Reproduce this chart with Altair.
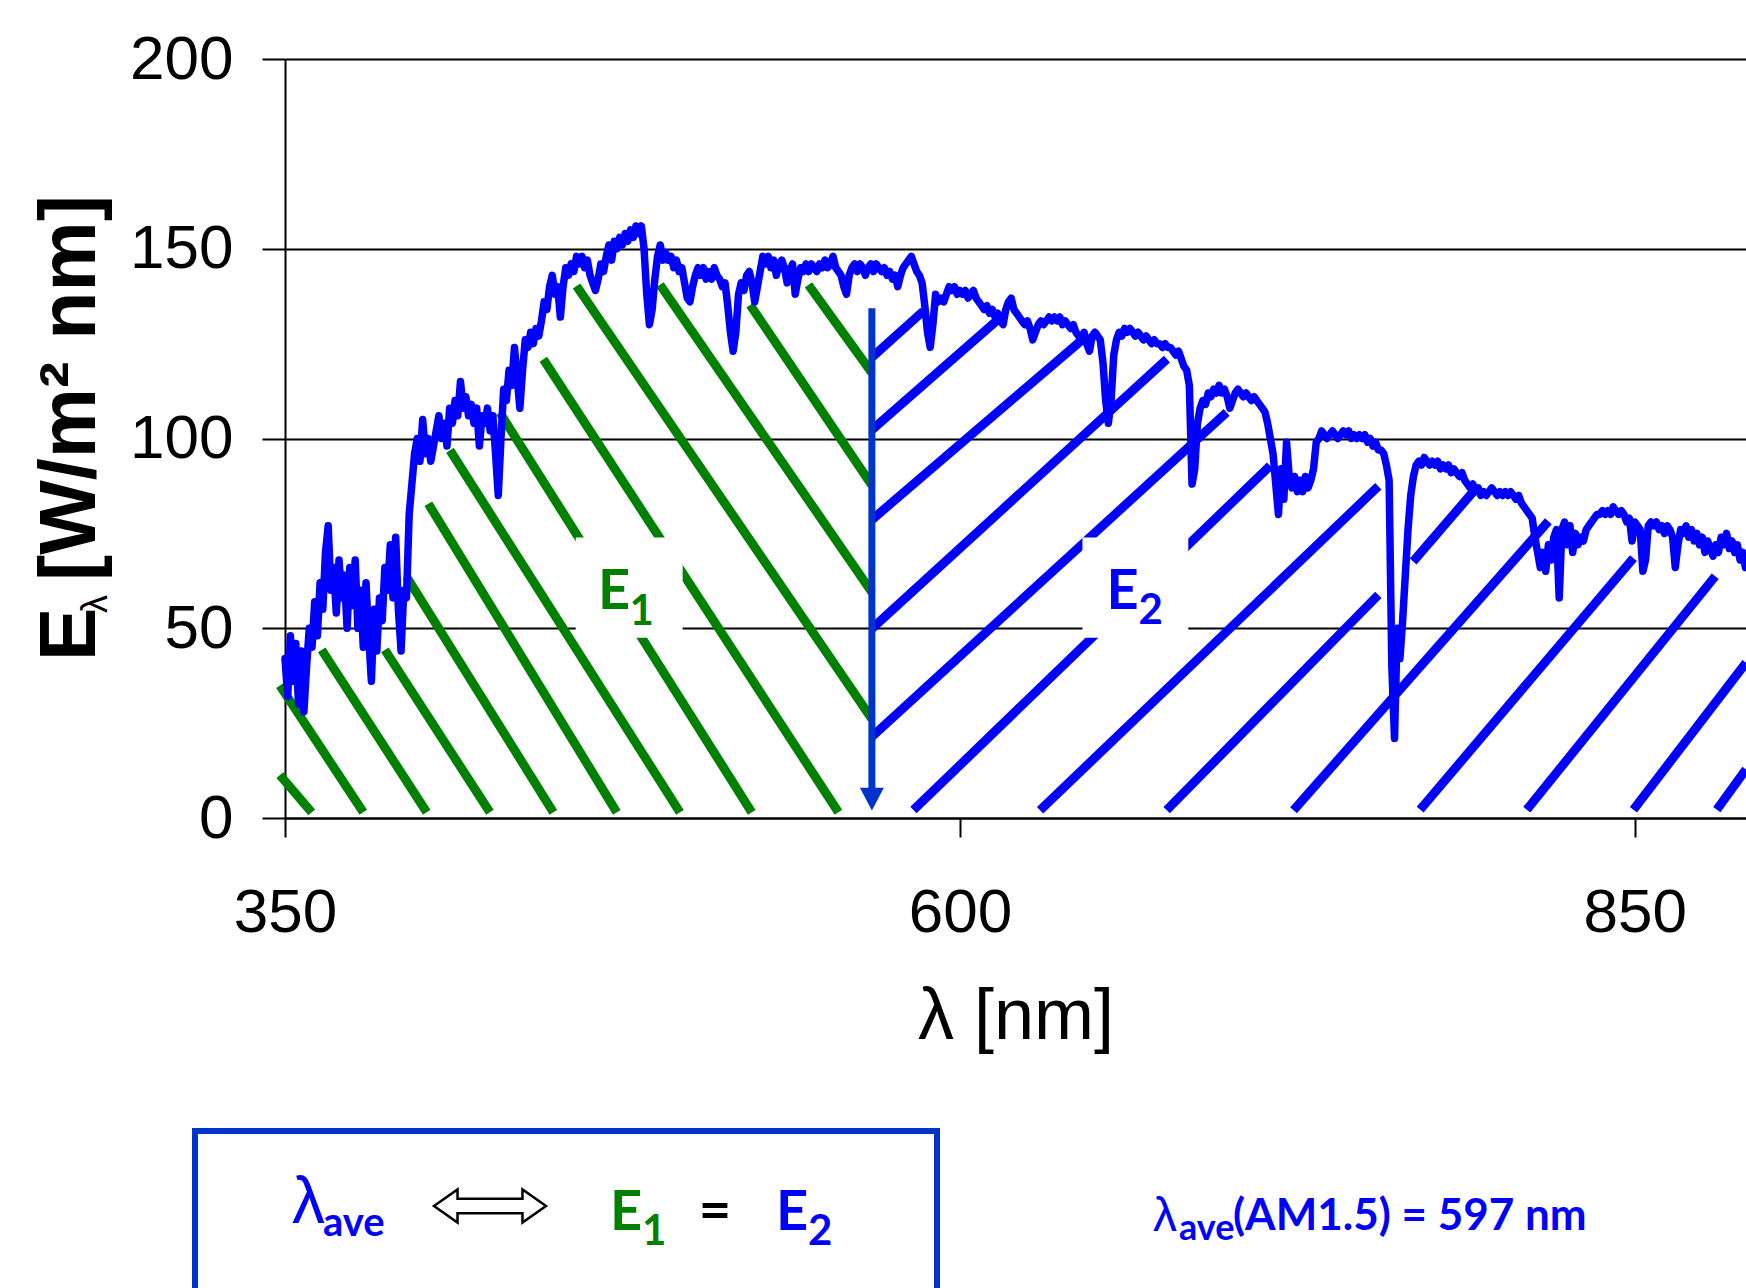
import altair as alt
import pandas as pd

# ---------------- data ----------------
# AM1.5 spectral irradiance (scaled), 1 nm steps from 350 nm
WL_START = 350
IRRADIANCE = [
    42, 32, 48, 36, 46, 30, 44, 28, 40, 50,
    45, 57, 48, 62, 55, 70, 77, 60, 66, 54,
    68, 58, 64, 50, 66, 56, 68, 50, 60, 45,
    62, 48, 36, 55, 44, 58, 52, 66, 60, 72,
    58, 74, 55, 44, 60, 58, 80, 88, 96, 100,
    94, 105, 96, 100, 94, 98, 102, 106, 100, 104,
    98, 108, 104, 110, 106, 115, 108, 111, 106, 109,
    104, 108, 98, 106, 104, 108, 102, 106, 96, 85,
    100, 113, 110, 118, 114, 124, 116, 108, 118, 126,
    124, 128, 125, 129, 127, 131, 136, 134, 140, 143,
    138, 140, 132, 140, 145, 143, 146, 144, 148, 146,
    148, 145, 147, 143, 141, 139, 142, 146, 144, 148,
    151, 147, 152, 150, 153, 151, 154, 152, 155, 153,
    156, 154, 156, 150, 138, 130, 134, 142, 148, 151,
    147, 149, 147, 148, 145, 147, 144, 145, 141, 137,
    136, 140, 143, 145, 143, 145, 142, 144, 142, 145,
    143, 142, 140, 141, 135, 128, 123, 128, 138, 141,
    139, 143, 144, 141, 136, 140, 144, 148, 146, 148,
    145, 147, 143, 146, 147, 145, 141, 144, 146, 138,
    142, 145, 144, 146, 144, 146, 145, 144, 146, 145,
    147, 145, 146, 148, 145, 144, 143, 140, 138, 143,
    145, 146, 144, 146, 145, 143, 145, 146, 144, 146,
    145, 144, 145, 143, 144, 142, 143, 140, 143, 145,
    146, 147, 148, 146, 144, 143, 141, 135, 128, 124,
    130, 138, 136, 137, 136, 138, 140, 139, 140, 138,
    139, 138, 139, 137, 138, 139, 137, 136, 135, 134,
    135, 133, 134, 132, 133, 131, 130, 134, 136, 137,
    134, 133, 132, 131, 130, 131, 129, 126, 128, 130,
    131, 130, 131, 132, 131, 132, 131, 132, 130, 131,
    130, 129, 130, 128, 127, 126, 128, 125, 123, 127,
    128, 127, 126, 120, 110, 104, 110, 122, 126, 128,
    127, 129, 128, 129, 128, 127, 128, 127, 126, 127,
    126, 125, 126, 125, 125, 124, 125, 124, 124, 123,
    122, 123, 121, 119, 118, 114, 88, 92, 104, 108,
    110, 109, 112, 111, 113, 112, 114, 112, 113, 111,
    108, 110, 112, 113, 112, 111, 112, 111, 110, 111,
    110, 109, 108, 107, 104, 100, 96, 88, 80, 92,
    84, 99, 90, 87, 90, 86, 89, 86, 90, 87,
    89, 92, 99, 100, 102, 101, 100, 101, 102, 101,
    100, 101, 102, 101, 102, 100, 101, 100, 101, 100,
    101, 99, 100, 98, 99, 97, 97, 96, 93, 89,
    40, 21, 50, 42, 52, 64, 76, 85, 90, 93,
    94, 93, 95, 94, 93, 94, 93, 94, 92, 93,
    92, 93, 91, 92, 91, 90, 91, 89, 88, 87,
    88, 86, 87, 85, 86, 85, 86, 87, 86, 85,
    86, 85, 86, 85, 86, 85, 84, 85, 83, 82,
    81, 80, 79, 74, 70, 66, 70, 65, 72, 68,
    74, 76, 58, 76, 78, 72, 77, 70, 75, 72,
    74, 73, 76, 77, 78, 79, 80, 80, 81, 80,
    81, 80, 82, 81, 80, 81, 80, 78, 79, 73,
    78, 77, 76, 65, 68, 77, 78, 77, 78, 76,
    77, 75, 77, 76, 74, 66, 72, 76, 75, 77,
    74, 76, 73, 75, 72, 74, 70, 73, 71, 69,
    72, 70, 74, 72, 75, 71, 73, 70, 72, 68,
    70, 66,
]
WAVELENGTH = [WL_START + i for i in range(len(IRRADIANCE))]

# hatching segments under the curve (E1: green, left of lambda_ave)
GREEN_X1 = [348.1, 348.1, 363.6, 387.0, 395.0, 403.1, 411.1, 429.6, 445.7, 458.0, 488.9, 522.3, 543.9]
GREEN_Y1 = [11.3, 34.9, 44.3, 44.3, 63.6, 82.8, 96.9, 106.8, 120.9, 140.2, 140.5, 135.2, 140.5]
GREEN_X2 = [359.9, 379.0, 402.5, 425.9, 449.4, 472.9, 496.3, 522.9, 555.0, 567.4, 567.4, 567.4, 567.4]
GREEN_Y2 = [1.5, 1.5, 1.5, 1.5, 1.5, 1.5, 1.5, 1.5, 1.5, 26.1, 59.5, 87.7, 117.3]

# hatching segments (E2: blue, right of lambda_ave)
BLUE_X1 = [567.4, 567.4, 567.4, 567.4, 567.4, 582.8, 629.7, 676.6, 767.9, 723.6, 770.5, 810.0, 849.5, 880.4]
BLUE_Y1 = [121.4, 102.3, 78.6, 49.9, 21.4, 2.1, 2.05, 2.05, 67.6, 2.05, 2.2, 2.2, 2.2, 2.2]
BLUE_X2 = [586.5, 614.2, 645.1, 676.7, 698.8, 714.9, 755.0, 755.0, 790.3, 818.0, 849.5, 879.8, 891.2, 891.2]
BLUE_Y2 = [133.6, 131.4, 125.9, 120.9, 106.9, 92.8, 87.4, 58.8, 86.1, 78.2, 68.5, 63.7, 40.9, 12.8]

# white label boxes behind E1 / E2
BOX_X1 = [457.7, 645.4]
BOX_X2 = [497.3, 684.6]
BOX_Y1 = [47.5, 47.5]
BOX_Y2 = [73.9, 73.9]

# labels E1, E2
LABEL_MAIN = ["E", "E"]
LABEL_SUB = ["1", "2"]
LABEL_COLOR = ["#008000", "#0000FF"]
LABEL_MAIN_X = [465.9, 654.3]
LABEL_MAIN_Y = [55.0, 55.0]
LABEL_SUB_X = [477.6, 666.2]
LABEL_SUB_Y = [50.8, 51.0]

# lambda_ave arrow
ARROW_X = [567.4]
ARROW_TOP = [134.3]
ARROW_SHAFT_END = [7.9]
ARROW_HEAD_Y = [4.95]

X_TICKS = [350, 600, 850]
Y_TICKS = [0, 50, 100, 150, 200]

# ---------------- chart ----------------
W, H = 1461, 759
XS = alt.Scale(domain=[350, 891.2], nice=False, zero=False)
YS = alt.Scale(domain=[0, 200], nice=False, zero=False)
XA = alt.Axis(values=X_TICKS, title="λ [nm]", grid=False, labelFlush=False,
              labelOverlap=False)
YA = alt.Axis(values=Y_TICKS, title=None, grid=True, labelOverlap=False)

BLUE = "#0000FF"
DARKBLUE = "#0033CC"
GREEN = "#008000"
CAL = "Lato"
ARIAL = "Liberation Sans"

spec_df = pd.DataFrame({"x": WAVELENGTH, "y": IRRADIANCE})
green_df = pd.DataFrame({"x": GREEN_X1, "y": GREEN_Y1, "x2": GREEN_X2, "y2": GREEN_Y2})
blue_df = pd.DataFrame({"x": BLUE_X1, "y": BLUE_Y1, "x2": BLUE_X2, "y2": BLUE_Y2})
box_df = pd.DataFrame({"x": BOX_X1, "x2": BOX_X2, "y": BOX_Y1, "y2": BOX_Y2})
lab_df = pd.DataFrame({"x": LABEL_MAIN_X, "y": LABEL_MAIN_Y, "t": LABEL_MAIN, "c": LABEL_COLOR})
sub_df = pd.DataFrame({"x": LABEL_SUB_X, "y": LABEL_SUB_Y, "t": LABEL_SUB, "c": LABEL_COLOR})
arrow_df = pd.DataFrame({"x": ARROW_X, "y": ARROW_TOP, "y2": ARROW_SHAFT_END, "h": ARROW_HEAD_Y})
one = pd.DataFrame({"k": [0]})


def X(f="x"):
    return alt.X(f + ":Q", scale=XS, axis=XA)


def Y(f="y"):
    return alt.Y(f + ":Q", scale=YS, axis=YA)


green = alt.Chart(green_df).mark_rule(color=GREEN, strokeWidth=9).encode(
    x=X(), y=Y(), x2="x2:Q", y2="y2:Q")
blue = alt.Chart(blue_df).mark_rule(color=BLUE, strokeWidth=9).encode(
    x=X(), y=Y(), x2="x2:Q", y2="y2:Q")
boxes = alt.Chart(box_df).mark_rect(color="white").encode(
    x=X(), x2="x2:Q", y=Y(), y2="y2:Q")
spectrum = alt.Chart(spec_df).mark_line(
    color=BLUE, strokeWidth=7.5, strokeJoin="round", strokeCap="round").encode(x=X(), y=Y())
shaft = alt.Chart(arrow_df).mark_rule(color=DARKBLUE, strokeWidth=7).encode(
    x=X(), y=Y(), y2="y2:Q")
head = alt.Chart(arrow_df).mark_point(
    shape="M -1 -0.95 L 1 -0.95 L 0 0.95 Z", filled=True, fill=DARKBLUE,
    size=576, opacity=1, strokeWidth=0).encode(x=X(), y=Y("h"))
lab_main = alt.Chart(lab_df).mark_text(
    font=CAL, fontWeight="bold", fontSize=56, align="left", baseline="alphabetic").encode(
    x=X(), y=Y(), text="t:N", color=alt.Color("c:N", scale=None))
lab_sub = alt.Chart(sub_df).mark_text(
    font=CAL, fontWeight="bold", fontSize=42, align="left", baseline="alphabetic").encode(
    x=X(), y=Y(), text="t:N", color=alt.Color("c:N", scale=None))


def ptext(txt, x, y, size, color="black", weight="normal", font=CAL, angle=0, align="left"):
    kw = dict(text=txt, font=font, fontSize=size, fontWeight=weight, color=color,
              align=align, baseline="alphabetic")
    if angle:
        kw["angle"] = angle
    return alt.Chart(one).mark_text(**kw).encode(x=alt.value(x), y=alt.value(y))


# y-axis title  E_λ [W/m² nm]  (rotated)
ytitle = [
    ptext("E", -190, 602, 80, weight="bold", font=ARIAL, angle=270),
    ptext("λ", -178, 554, 36, font=ARIAL, angle=270),
    ptext("[W/m² nm]", -190, 522, 79, weight="bold", font=ARIAL, angle=270),
]

# annotation box below the chart
frame = alt.Chart(one).mark_rect(
    fillOpacity=0, stroke=DARKBLUE, strokeWidth=6).encode(
    x=alt.value(-90), x2=alt.value(652), y=alt.value(1072), y2=alt.value(1245))
dbl_arrow = alt.Chart(one).mark_point(
    shape=("M -1 0 L -0.58 -0.295 L -0.58 -0.13 L 0.58 -0.13 L 0.58 -0.295 L 1 0 "
           "L 0.58 0.295 L 0.58 0.13 L -0.58 0.13 L -0.58 0.295 Z"),
    filled=True, fill="white", stroke="black", strokeWidth=2.5, size=12544,
    opacity=1).encode(x=alt.value(205), y=alt.value(1147))
box_texts = [
    ptext("λ", 7, 1164, 66, color=BLUE, font=ARIAL),
    ptext("ave", 38, 1177, 40, color=BLUE, weight="bold"),
    ptext("E", 325, 1171, 56, color=GREEN, weight="bold"),
    ptext("1", 357, 1186, 42, color=GREEN, weight="bold"),
    ptext("=", 430, 1170, 56, color="black", weight="bold", align="center"),
    ptext("E", 491, 1171, 56, color=BLUE, weight="bold"),
    ptext("2", 523, 1186, 42, color=BLUE, weight="bold"),
]
right_texts = [
    ptext("λ", 868, 1172, 48, color=BLUE, font=ARIAL),
    ptext("ave", 894, 1181, 36, color=BLUE, weight="bold"),
    ptext("(AM1.5) = 597 nm", 948, 1171, 44, color=BLUE, weight="bold"),
]

chart = alt.layer(
    green, blue, boxes, spectrum, shaft, head, lab_main, lab_sub,
    *ytitle, frame, dbl_arrow, *box_texts, *right_texts,
).properties(
    width=W, height=H,
    autosize=alt.AutoSizeParams(type="none"),
    padding={"left": 285, "top": 59, "right": 0, "bottom": 470},
    background="white",
).configure_view(
    strokeWidth=0
).configure_axis(
    domainColor="black", domainWidth=2, tickColor="black", tickWidth=2,
    labelFont=ARIAL, labelFontSize=62, labelColor="black",
    gridColor="black", gridWidth=2, titleFont=ARIAL, titleColor="black",
).configure_axisX(
    tickSize=19, labelPadding=45, titleFontSize=72, titleFontWeight="normal",
    titleY=220, titleBaseline="alphabetic",
).configure_axisY(
    tickSize=23, labelPadding=29,
)

chart.save("out.html", embed_options={"renderer": "svg", "actions": False})
